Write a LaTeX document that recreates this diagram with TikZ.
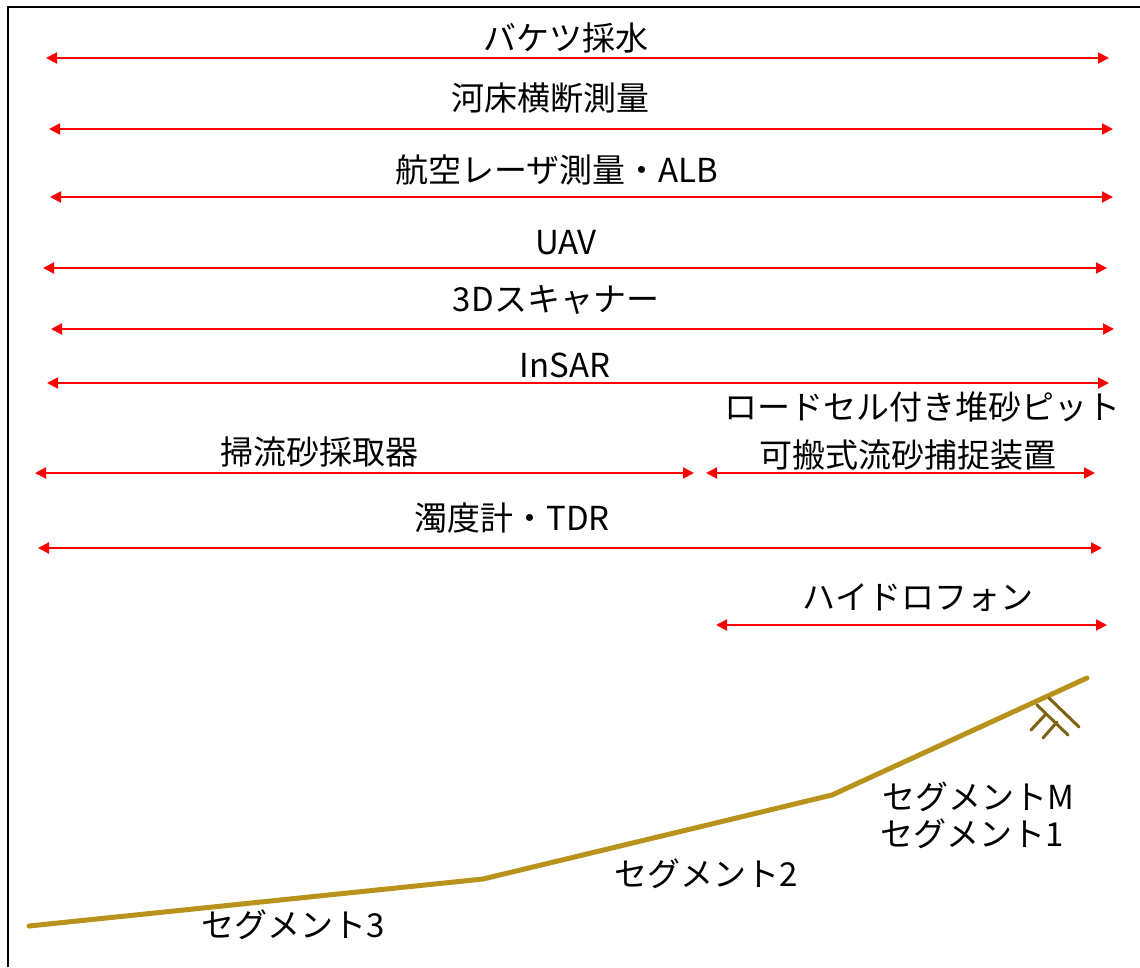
\documentclass[tikz,border=0pt]{standalone}
\usepackage{fontspec}
\setmainfont{Noto Sans CJK JP}
\usetikzlibrary{arrows.meta}
\definecolor{ground}{HTML}{B8921A}
\definecolor{hatch}{HTML}{7E6212}
\tikzset{
  lbl/.style={inner sep=0pt, font=\fontsize{33}{40}\selectfont, text=black},
  rng/.style={draw=red, line width=2pt, {Triangle[length=11pt,width=11pt]}-{Triangle[length=11pt,width=11pt]}},
  gline/.style={draw=ground, line width=5pt, line cap=round, line join=round},
  hline/.style={draw=hatch, line width=3pt, line cap=round},
  frame/.style={draw=black, line width=2.5pt}
}
\begin{document}
\begin{tikzpicture}[x=1pt,y=-1pt]
\useasboundingbox (0,0) rectangle (1140,967);
% frame
\coordinate (fbl) at (8,967);
\coordinate (ftl) at (8,7);
\coordinate (ftr) at (1140,7);
\draw[frame] (fbl) -- (ftl) -- (ftr);

% labels
\node[lbl] (t1) at (566,38) {バケツ採水};
\node[lbl] (t2) at (550,98) {河床横断測量};
\node[lbl] (t3) at (557,170) {航空レーザ測量・ALB};
\node[lbl] (t4) at (566,243) {UAV};
\node[lbl] (t5) at (556,300) {3Dスキャナー};
\node[lbl] (t6) at (565,365) {InSAR};
\node[lbl] (t7) at (319,452) {掃流砂採取器};
\node[lbl] (t8a) at (922,407) {ロードセル付き堆砂ピット};
\node[lbl] (t8b) at (908,455) {可搬式流砂捕捉装置};
\node[lbl] (t9) at (512,518) {濁度計・TDR};
\node[lbl] (t10) at (918,598) {ハイドロフォン};

% range arrows
\coordinate (a1l) at (46,58);   \coordinate (a1r) at (1109,58);
\coordinate (a2l) at (49,129);  \coordinate (a2r) at (1113,129);
\coordinate (a3l) at (50,197);  \coordinate (a3r) at (1113,197);
\coordinate (a4l) at (43,268);  \coordinate (a4r) at (1107,268);
\coordinate (a5l) at (51,329);  \coordinate (a5r) at (1114,329);
\coordinate (a6l) at (47,383);  \coordinate (a6r) at (1109,383);
\coordinate (a7l) at (35,473);  \coordinate (a7r) at (694,473);
\coordinate (a8l) at (706,473); \coordinate (a8r) at (1095,473);
\coordinate (a9l) at (38,548);  \coordinate (a9r) at (1102,548);
\coordinate (a10l) at (716,625); \coordinate (a10r) at (1107,625);
\foreach \i in {1,...,10} \draw[rng] (a\i l) -- (a\i r);

% ground profile
\coordinate (g0) at (29,926);
\coordinate (g1) at (483,879);
\coordinate (g2) at (832,795);
\coordinate (g3) at (1087,678);
\draw[gline] (g0) -- (g1) -- (g2) -- (g3);

% dam / structure symbol
\coordinate (h1a) at (1049,698); \coordinate (h1b) at (1079,727);
\coordinate (h2a) at (1037,705); \coordinate (h2b) at (1068,735);
\coordinate (h3a) at (1045,715); \coordinate (h3b) at (1031,730);
\coordinate (h4a) at (1057,722); \coordinate (h4b) at (1043,738);
\draw[hline] (h1a) -- (h1b);
\draw[hline] (h2a) -- (h2b);
\draw[hline] (h3a) -- (h3b);
\draw[hline] (h4a) -- (h4b);

% segment labels
\node[lbl] (s3) at (293,925) {セグメント3};
\node[lbl] (s2) at (706,874) {セグメント2};
\node[lbl] (sm) at (978,797) {セグメントM};
\node[lbl] (s1) at (972,834) {セグメント1};
\end{tikzpicture}
\end{document}
